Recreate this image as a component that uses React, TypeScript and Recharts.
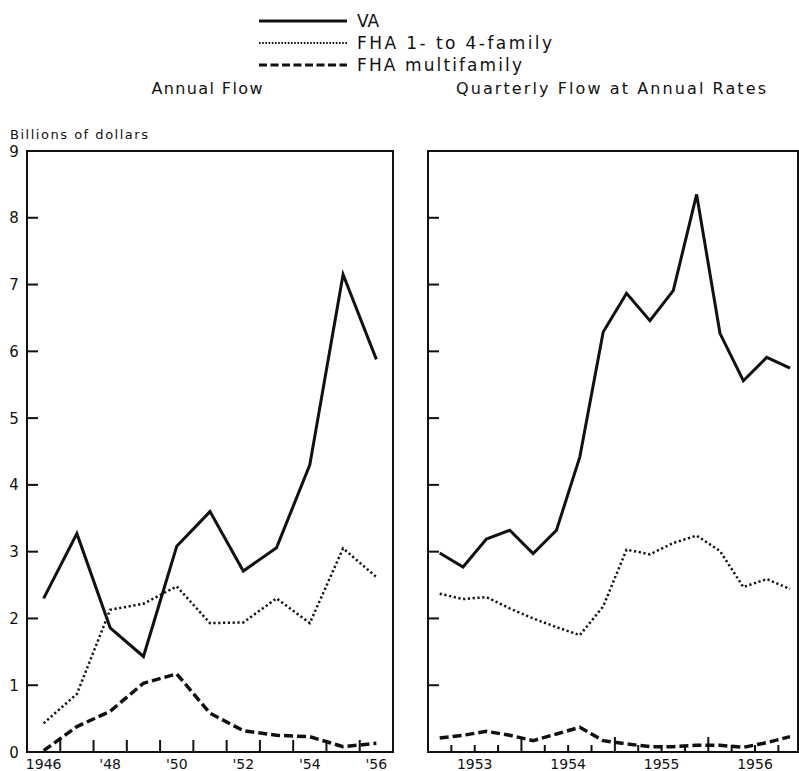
import React from 'react';
import { LineChart, Line, XAxis, YAxis, ReferenceArea } from 'recharts';

// Annual flow, billions of dollars
const annualYears = [1946, 1947, 1948, 1949, 1950, 1951, 1952, 1953, 1954, 1955, 1956];
const annualVA = [2.3, 3.27, 1.86, 1.43, 3.08, 3.6, 2.71, 3.06, 4.3, 7.15, 5.88];
const annualFHA14 = [0.43, 0.87, 2.13, 2.22, 2.48, 1.93, 1.94, 2.3, 1.93, 3.05, 2.62];
const annualFHAMulti = [0.02, 0.38, 0.61, 1.03, 1.17, 0.58, 0.32, 0.25, 0.23, 0.08, 0.13];
const annualLabelYears = [1946, 1948, 1950, 1952, 1954, 1956];
const annualLabels = ['1946', "'48", "'50", "'52", "'54", "'56"];

// Quarterly flow at annual rates, 1953 Q1 .. 1956 Q4
const quarterYears = [1953, 1954, 1955, 1956];
const quarterNums = [1, 2, 3, 4];
const quarterlyVA = [2.98, 2.77, 3.19, 3.32, 2.97, 3.32, 4.42, 6.29, 6.87, 6.46, 6.91, 8.35, 6.27, 5.56, 5.91, 5.75];
const quarterlyFHA14 = [2.37, 2.29, 2.32, 2.15, 2.0, 1.87, 1.75, 2.18, 3.03, 2.96, 3.13, 3.24, 3.01, 2.47, 2.59, 2.44];
const quarterlyFHAMulti = [0.21, 0.25, 0.31, 0.25, 0.17, 0.27, 0.37, 0.17, 0.12, 0.08, 0.08, 0.1, 0.1, 0.07, 0.14, 0.23];

const seriesNames = ['VA', 'FHA 1- to 4-family', 'FHA multifamily'];
const yTicks = [0, 1, 2, 3, 4, 5, 6, 7, 8, 9];

const FONT = '"DejaVu Sans", sans-serif';
const INK = '#111';

const styles = [
  { stroke: INK, strokeWidth: 3, strokeDasharray: undefined as string | undefined },
  { stroke: INK, strokeWidth: 2.5, strokeDasharray: '2.2 2.6' },
  { stroke: INK, strokeWidth: 3.5, strokeDasharray: '9 4' },
];

const annualData = annualYears.map((year, i) => ({
  year,
  va: annualVA[i],
  fha14: annualFHA14[i],
  multi: annualFHAMulti[i],
}));

const quarterlyData = quarterYears.flatMap((year, yi) =>
  quarterNums.map((q, qi) => {
    const i = yi * 4 + qi;
    return {
      t: year + (q - 0.5) / 4,
      va: quarterlyVA[i],
      fha14: quarterlyFHA14[i],
      multi: quarterlyFHAMulti[i],
    };
  })
);

const annualTicks: number[] = [];
annualYears.forEach((y, i) => {
  annualTicks.push(y);
  if (i < annualYears.length - 1) annualTicks.push(y + 0.5);
});

const quarterTicks: number[] = [];
quarterYears.forEach((y) => {
  quarterNums.forEach((q) => {
    const v = y + (q - 1) / 4;
    if (v > quarterYears[0]) quarterTicks.push(v);
  });
});

const LeftYTick = (props: any) => {
  const { x, y, payload, labels } = props;
  return (
    <g>
      <line x1={x} x2={x + 11} y1={y} y2={y} stroke={INK} strokeWidth={2} />
      {labels && (
        <text x={x - 13} y={y} dy={5.5} textAnchor="middle" fontSize={15} fontFamily={FONT} fill={INK}>
          {payload.value}
        </text>
      )}
    </g>
  );
};

const RightYTick = (props: any) => {
  const { x, y } = props;
  return <line x1={x - 11} x2={x} y1={y} y2={y} stroke={INK} strokeWidth={2} />;
};

const AnnualXTick = (props: any) => {
  const { x, y, payload } = props;
  const v = payload.value as number;
  if (v % 1 !== 0) {
    return <line x1={x} x2={x} y1={y} y2={y - 12} stroke={INK} strokeWidth={2} />;
  }
  const idx = annualLabelYears.indexOf(v);
  if (idx < 0) return <g />;
  return (
    <text x={x} y={y + 17} textAnchor="middle" fontSize={14} fontFamily={FONT} fill={INK}>
      {annualLabels[idx]}
    </text>
  );
};

const QuarterXTick = (props: any) => {
  const { x, y, payload } = props;
  const v = payload.value as number;
  const isYear = v % 1 === 0;
  const isMid = v % 1 === 0.5;
  return (
    <g>
      <line x1={x} x2={x} y1={y} y2={y - (isYear ? 15 : 7)} stroke={INK} strokeWidth={2} />
      {isMid && (
        <text x={x} y={y + 17} textAnchor="middle" fontSize={14} fontFamily={FONT} fill={INK}>
          {Math.floor(v)}
        </text>
      )}
    </g>
  );
};

function Series() {
  return (
    <>
      {['va', 'fha14', 'multi'].map((key, i) => (
        <Line
          key={key}
          type="linear"
          dataKey={key}
          name={seriesNames[i]}
          stroke={styles[i].stroke}
          strokeWidth={styles[i].strokeWidth}
          strokeDasharray={styles[i].strokeDasharray}
          dot={false}
          activeDot={false}
          isAnimationActive={false}
        />
      ))}
    </>
  );
}

function Legend() {
  const rows = [27, 49, 71];
  const widths = [undefined, 195, 165];
  return (
    <g>
      {seriesNames.map((name, i) => (
        <g key={name}>
          <line
            x1={259}
            x2={347}
            y1={rows[i] - 6}
            y2={rows[i] - 6}
            stroke={INK}
            strokeWidth={i === 1 ? 1.8 : 3}
            strokeDasharray={i === 1 ? '1.6 1.6' : i === 2 ? '8 3.5' : undefined}
          />
          <text
            x={357}
            y={rows[i]}
            fontSize={17}
            fontFamily={FONT}
            fill={INK}
            textLength={widths[i]}
            lengthAdjust={widths[i] ? 'spacing' : undefined}
          >
            {name}
          </text>
        </g>
      ))}
    </g>
  );
}

export default function App() {
  return (
    <div style={{ position: 'absolute', left: 0, top: 0, width: 799, height: 771, background: '#fff', overflow: 'hidden' }}>
      <svg width={799} height={771} style={{ position: 'absolute', left: 0, top: 0 }}>
        <Legend />
        <text x={207} y={94} textAnchor="middle" fontSize={16} fontFamily={FONT} fill={INK} textLength={111} lengthAdjust="spacing">
          Annual Flow
        </text>
        <text x={611} y={94} textAnchor="middle" fontSize={16} fontFamily={FONT} fill={INK} textLength={310} lengthAdjust="spacing">
          Quarterly Flow at Annual Rates
        </text>
        <text x={10} y={139} fontSize={13} fontFamily={FONT} fill={INK} textLength={138} lengthAdjust="spacing">
          Billions of dollars
        </text>
      </svg>

      <div style={{ position: 'absolute', left: 0, top: 0 }}>
        <LineChart width={400} height={771} data={annualData} margin={{ top: 151, right: 7, bottom: 0, left: 0 }}>
          <XAxis
            dataKey="year"
            type="number"
            domain={[1945.5, 1956.5]}
            ticks={annualTicks}
            interval={0}
            height={19}
            tickSize={0}
            tickMargin={0}
            tickLine={false}
            axisLine={false}
            tick={<AnnualXTick />}
          />
          <YAxis
            domain={[0, 9]}
            ticks={yTicks}
            interval={0}
            width={27}
            tickSize={0}
            tickMargin={0}
            tickLine={false}
            axisLine={false}
            tick={<LeftYTick labels />}
          />
          <YAxis
            yAxisId="r"
            orientation="right"
            domain={[0, 9]}
            ticks={yTicks}
            interval={0}
            width={0}
            tickSize={0}
            tickMargin={0}
            tickLine={false}
            axisLine={false}
            tick={<RightYTick />}
          />
          <ReferenceArea x1={1945.5} x2={1956.5} y1={0} y2={9} fill="none" stroke={INK} strokeWidth={2} />
          {Series()}
        </LineChart>
      </div>

      <div style={{ position: 'absolute', left: 400, top: 0 }}>
        <LineChart width={399} height={771} data={quarterlyData} margin={{ top: 151, right: 1, bottom: 0, left: 0 }}>
          <XAxis
            dataKey="t"
            type="number"
            domain={[1953, 1956.96]}
            ticks={quarterTicks}
            interval={0}
            height={19}
            tickSize={0}
            tickMargin={0}
            tickLine={false}
            axisLine={false}
            tick={<QuarterXTick />}
          />
          <YAxis
            domain={[0, 9]}
            ticks={yTicks}
            interval={0}
            width={28}
            tickSize={0}
            tickMargin={0}
            tickLine={false}
            axisLine={false}
            tick={<LeftYTick />}
          />
          <YAxis
            yAxisId="r"
            orientation="right"
            domain={[0, 9]}
            ticks={yTicks}
            interval={0}
            width={0}
            tickSize={0}
            tickMargin={0}
            tickLine={false}
            axisLine={false}
            tick={<RightYTick />}
          />
          <ReferenceArea x1={1953} x2={1956.96} y1={0} y2={9} fill="none" stroke={INK} strokeWidth={2} />
          {Series()}
        </LineChart>
      </div>
    </div>
  );
}
